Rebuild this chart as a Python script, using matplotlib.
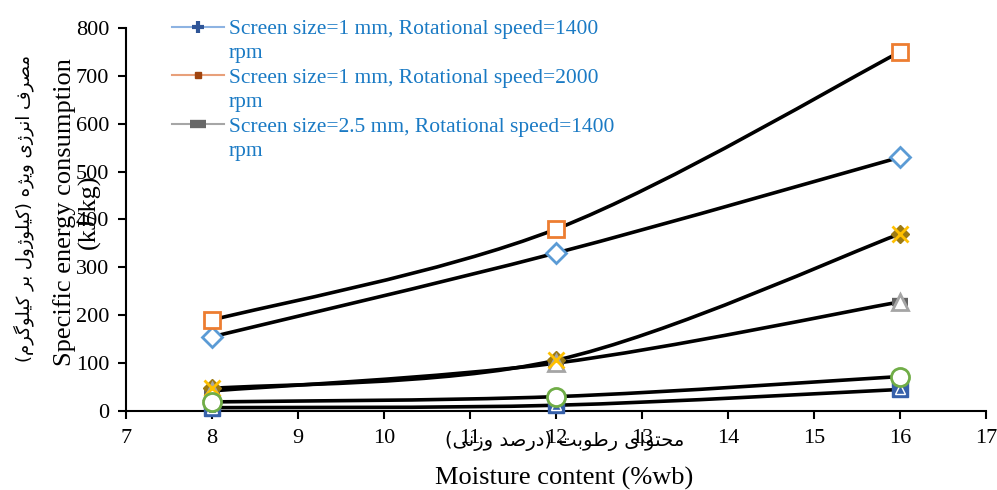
import numpy as np
import matplotlib
matplotlib.use("Agg")
import matplotlib.pyplot as plt
from matplotlib.path import Path
from matplotlib.patches import PathPatch
from matplotlib.lines import Line2D

# ---- data -------------------------------------------------------------
moisture = [8, 12, 16]
sec_square = [190, 380, 750]      # orange squares
sec_diamond = [155, 330, 530]     # blue diamonds
sec_cross = [47, 106, 370]        # gold crosses
sec_triangle = [42, 100, 228]     # grey triangles
sec_circle = [19, 30, 72]         # green circles
sec_blue = [7, 12, 45]            # dark blue squares

x_ticks = list(range(7, 18))
y_ticks = list(range(0, 900, 100))

legend_labels = [
    "Screen size=1 mm, Rotational speed=1400",
    "Screen size=1 mm, Rotational speed=2000",
    "Screen size=2.5 mm, Rotational speed=1400",
]
legend_suffix = "rpm"

ylabel_en = "Specific energy consumption\n(kJ/kg)"
xlabel_en = "Moisture content (%wb)"
ylabel_fa = "مصرف انرژی ویژه (کیلوژول بر کیلوگرم)"
xlabel_fa = "محتوای رطوبت (درصد وزنی)"

# ---- simple Persian shaping (presentation forms, visual order) ---------
FORMS = {
    'ا': ('\uFE8D', '\uFE8E', None, None),
    'ب': ('\uFE8F', '\uFE90', '\uFE91', '\uFE92'),
    'ت': ('\uFE95', '\uFE96', '\uFE97', '\uFE98'),
    'ح': ('\uFEA1', '\uFEA2', '\uFEA3', '\uFEA4'),
    'د': ('\uFEA9', '\uFEAA', None, None),
    'ر': ('\uFEAD', '\uFEAE', None, None),
    'ز': ('\uFEAF', '\uFEB0', None, None),
    'ژ': ('\uFB8A', '\uFB8B', None, None),
    'ص': ('\uFEB9', '\uFEBA', '\uFEBB', '\uFEBC'),
    'ط': ('\uFEC1', '\uFEC2', '\uFEC3', '\uFEC4'),
    'ف': ('\uFED1', '\uFED2', '\uFED3', '\uFED4'),
    'ک': ('\uFB8E', '\uFB8F', '\uFB90', '\uFB91'),
    'گ': ('\uFB92', '\uFB93', '\uFB94', '\uFB95'),
    'ل': ('\uFEDD', '\uFEDE', '\uFEDF', '\uFEE0'),
    'م': ('\uFEE1', '\uFEE2', '\uFEE3', '\uFEE4'),
    'ن': ('\uFEE5', '\uFEE6', '\uFEE7', '\uFEE8'),
    'ه': ('\uFEE9', '\uFEEA', '\uFEEB', '\uFEEC'),
    'و': ('\uFEED', '\uFEEE', None, None),
    'ی': ('\uFBFC', '\uFBFD', '\uFBFE', '\uFBFF'),
}


def shape_rtl(text):
    out = []
    for i, c in enumerate(text):
        if c not in FORMS:
            out.append(c)
            continue
        prev = text[i - 1] if i > 0 else None
        nxt = text[i + 1] if i + 1 < len(text) else None
        join_prev = prev in FORMS and FORMS[prev][2] is not None
        join_next = nxt in FORMS and FORMS[c][2] is not None
        iso, fin, ini, med = FORMS[c]
        if join_prev and join_next:
            out.append(med)
        elif join_prev:
            out.append(fin)
        elif join_next:
            out.append(ini)
        else:
            out.append(iso)
    mirror = {'(': ')', ')': '('}
    return ''.join(mirror.get(c, c) for c in reversed(out))


def smooth_path(xs, ys):
    """Bezier path through the points (Catmull-Rom style smoothing)."""
    pts = np.column_stack([xs, ys]).astype(float)
    n = len(pts)
    verts = [pts[0]]
    codes = [Path.MOVETO]
    for i in range(n - 1):
        p0 = pts[i - 1] if i > 0 else pts[i]
        p1, p2 = pts[i], pts[i + 1]
        p3 = pts[i + 2] if i + 2 < n else pts[i + 1]
        verts += [p1 + (p2 - p0) / 6, p2 - (p3 - p1) / 6, p2]
        codes += [Path.CURVE4] * 3
    return Path(verts, codes)


# ---- figure -----------------------------------------------------------
serif = "Liberation Serif"
plt.rcParams["font.family"] = [serif, "DejaVu Sans"]

fig = plt.figure(figsize=(9.97, 4.90), dpi=100)
W, H = 997, 490
ax = fig.add_axes([126 / W, 1 - 411 / H, (986 - 126) / W, (411 - 28) / H])

# smooth black lines
for ys in [sec_square, sec_diamond, sec_cross, sec_triangle, sec_circle, sec_blue]:
    ax.add_patch(PathPatch(smooth_path(moisture, ys), fill=False,
                           edgecolor="black", lw=2.6, zorder=2,
                           capstyle="round"))

mk = dict(linestyle="none", clip_on=False)
# underlying filled markers
ax.plot(moisture, sec_triangle, marker="_", markersize=11, mew=6,
        color="#636363", zorder=3, **mk)
ax.plot(moisture, sec_cross, marker="D", markersize=9, mfc="#9C7A12",
        mec="#9C7A12", zorder=3, **mk)
ax.plot(moisture, sec_blue, marker="s", markersize=11, mfc="#3660AA",
        mec="#3660AA", zorder=3, **mk)
ax.plot(moisture, sec_blue, marker="^", markersize=7, mfc="none",
        mec="white", mew=1.0, zorder=3.1, **mk)

# hollow markers
ax.plot(moisture, sec_triangle, marker="^", markersize=12, mfc="white",
        mec="#A5A5A5", mew=2, zorder=4, **mk)
ax.plot(moisture, sec_cross, marker="x", markersize=11, mec="#FFC000",
        mew=2, zorder=5, **mk)
ax.plot(moisture, sec_circle, marker="o", markersize=13, mfc="white",
        mec="#70AD47", mew=2, zorder=6, **mk)
ax.plot(moisture, sec_diamond, marker="D", markersize=10, mfc="white",
        mec="#5B9BD5", mew=2, zorder=4, **mk)
ax.plot(moisture, sec_square, marker="s", markersize=12, mfc="white",
        mec="#ED7D31", mew=2, zorder=4, **mk)

# axes styling
ax.set_xlim(7, 17)
ax.set_ylim(0, 800)
ax.set_xticks(x_ticks)
ax.set_yticks(y_ticks)
for s in ["top", "right"]:
    ax.spines[s].set_visible(False)
for s in ["left", "bottom"]:
    ax.spines[s].set_linewidth(1.5)
    ax.spines[s].set_color("black")
ax.tick_params(direction="out", length=6, width=1.5, labelsize=16,
               colors="black")
ax.tick_params(axis="y", pad=6)
ax.tick_params(axis="x", pad=7)
ax.set_facecolor("none")

# legend
handles = [
    Line2D([], [], color="#8DB3E2", lw=1.5, marker="+", markersize=8,
           mew=3, mec="#2F5597"),
    Line2D([], [], color="#E8A07A", lw=1.5, marker="s", markersize=5,
           mfc="#A0440E", mec="#A0440E"),
    Line2D([], [], color="#A6A6A6", lw=1.5, marker="_", markersize=11,
           mew=6, mec="#676767"),
]
blank = Line2D([], [], linestyle="none")
leg_handles, leg_labels = [], []
for h, lab in zip(handles, legend_labels):
    leg_handles += [h, blank]
    leg_labels += [lab, legend_suffix]
leg = fig.legend(leg_handles, leg_labels, loc="upper left",
                 bbox_to_anchor=(172 / W, 1 - 19 / H),
                 bbox_transform=fig.transFigure, frameon=False,
                 fontsize=15.5, handlelength=2.4, handletextpad=0.25,
                 labelspacing=0.2, borderpad=0, borderaxespad=0)
for t in leg.get_texts():
    t.set_color("#1A7AC4")

# axis titles
fig.text(77 / W, 1 - 212 / H, ylabel_en, rotation=90, ha="center",
         va="center", fontsize=19, multialignment="center",
         linespacing=1.15)
fig.text(564 / W, 1 - 478 / H, xlabel_en, ha="center", va="center",
         fontsize=19)
fig.text(24 / W, 1 - 208 / H, shape_rtl(ylabel_fa), rotation=90,
         ha="center", va="center", fontsize=13, family=["DejaVu Sans"])
fig.text(565 / W, 1 - 441 / H, shape_rtl(xlabel_fa), ha="center",
         va="center", fontsize=14, family=["DejaVu Sans"])

fig.savefig("out.png", dpi=100)
